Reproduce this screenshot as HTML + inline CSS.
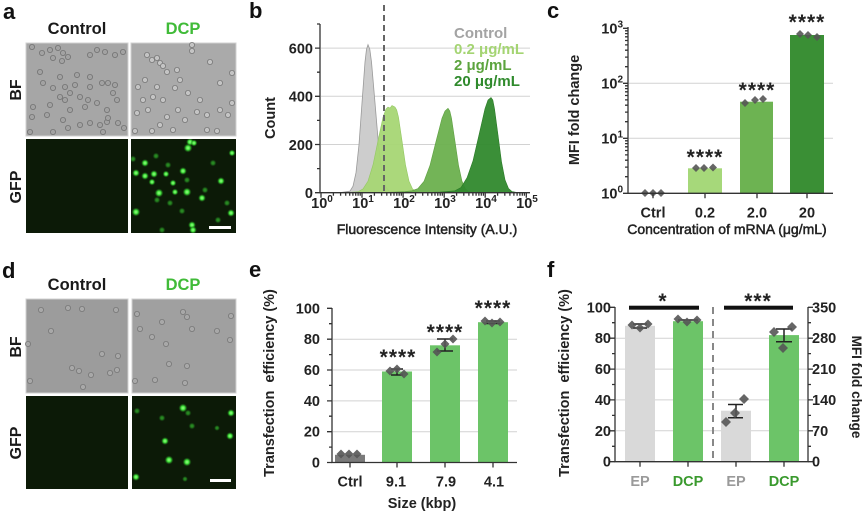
<!DOCTYPE html>
<html><head><meta charset="utf-8">
<style>
html,body{margin:0;padding:0;background:#fff;}
svg{display:block;font-family:"Liberation Sans",Arial,sans-serif;}
.pl{font-size:22px;font-weight:bold;fill:#111;}
.hd{font-size:16.5px;font-weight:bold;fill:#1a1a1a;}
.rl{font-size:16px;font-weight:bold;fill:#1a1a1a;}
.tk{font-size:14.5px;font-weight:bold;fill:#222;}
.ti{font-size:14.5px;font-weight:bold;fill:#222;}
.tr{font-size:14px;fill:#222;stroke:#222;stroke-width:0.5;}
.st{font-size:21px;font-weight:bold;fill:#222;letter-spacing:1px;}
.lg{font-size:15px;font-weight:bold;}
.ax{stroke:#333;stroke-width:1.3;fill:none;}
.gr{stroke:#d2d2d2;stroke-width:1;}
.dm{fill:#555;fill-opacity:0.9;}
.eb{stroke:#222;stroke-width:1.5;fill:none;}
</style></head><body>
<svg width="865" height="513" viewBox="0 0 865 513">
<defs>
<radialGradient id="gb"><stop offset="0" stop-color="#9dff88"/><stop offset="0.45" stop-color="#3fe03a"/><stop offset="1" stop-color="#1a6a14" stop-opacity="0"/></radialGradient>
<radialGradient id="gd"><stop offset="0" stop-color="#2f9a28"/><stop offset="0.5" stop-color="#1f6e1a"/><stop offset="1" stop-color="#134010" stop-opacity="0"/></radialGradient>
<clipPath id="c1"><rect x="131" y="139" width="105" height="94"/></clipPath>
<clipPath id="c2"><rect x="132" y="396" width="104" height="93"/></clipPath>
</defs>

<!-- ================= Panel a ================= -->
<text class="pl" x="3" y="19">a</text>
<text class="hd" x="77" y="34" text-anchor="middle">Control</text>
<text class="hd" x="183" y="34" text-anchor="middle" style="fill:#40bb38">DCP</text>
<text class="rl" transform="translate(21,90) rotate(-90)" text-anchor="middle">BF</text>
<text class="rl" transform="translate(21,187) rotate(-90)" text-anchor="middle">GFP</text>
<rect x="26" y="43" width="102" height="93" fill="#a6a6a6" stroke="#d0d0d0"/>
<rect x="131" y="43" width="105" height="93" fill="#aaaaaa" stroke="#d0d0d0"/>
<rect x="26" y="139" width="102" height="94" fill="#0c1a07"/>
<rect x="131" y="139" width="105" height="94" fill="#0c1a07"/>
<g fill="#a2a2a2" stroke="#727272" stroke-width="0.8">
<circle cx="32" cy="47" r="2.6"/><circle cx="42" cy="53" r="2.6"/><circle cx="50" cy="50" r="2.6"/><circle cx="58" cy="48" r="2.6"/><circle cx="63" cy="53" r="2.6"/><circle cx="53" cy="58" r="2.6"/><circle cx="62" cy="61" r="2.6"/><circle cx="68" cy="57" r="2.6"/><circle cx="90" cy="55" r="2.6"/><circle cx="97" cy="50" r="2.6"/><circle cx="105" cy="52" r="2.6"/><circle cx="115" cy="55" r="2.6"/><circle cx="123" cy="52" r="2.6"/><circle cx="40" cy="72" r="2.6"/><circle cx="60" cy="77" r="2.6"/><circle cx="77" cy="75" r="2.6"/><circle cx="90" cy="77" r="2.6"/><circle cx="43" cy="83" r="2.6"/><circle cx="53" cy="88" r="2.6"/><circle cx="65" cy="87" r="2.6"/><circle cx="75" cy="85" r="2.6"/><circle cx="90" cy="87" r="2.6"/><circle cx="102" cy="83" r="2.6"/><circle cx="108" cy="83" r="2.6"/><circle cx="115" cy="85" r="2.6"/><circle cx="60" cy="97" r="2.6"/><circle cx="70" cy="93" r="2.6"/><circle cx="80" cy="97" r="2.6"/><circle cx="88" cy="100" r="2.6"/><circle cx="97" cy="103" r="2.6"/><circle cx="113" cy="93" r="2.6"/><circle cx="117" cy="100" r="2.6"/><circle cx="33" cy="107" r="2.6"/><circle cx="50" cy="105" r="2.6"/><circle cx="65" cy="100" r="2.6"/><circle cx="70" cy="110" r="2.6"/><circle cx="85" cy="107" r="2.6"/><circle cx="107" cy="110" r="2.6"/><circle cx="32" cy="117" r="2.6"/><circle cx="47" cy="115" r="2.6"/><circle cx="63" cy="120" r="2.6"/><circle cx="80" cy="125" r="2.6"/><circle cx="90" cy="123" r="2.6"/><circle cx="100" cy="125" r="2.6"/><circle cx="107" cy="122" r="2.6"/><circle cx="118" cy="123" r="2.6"/><circle cx="124" cy="128" r="2.6"/><circle cx="68" cy="128" r="2.6"/><circle cx="53" cy="132" r="2.6"/><circle cx="30" cy="132" r="2.6"/><circle cx="103" cy="132" r="2.6"/><circle cx="108" cy="118" r="2.6"/>
</g>
<g fill="#c4c4c4" stroke="#777" stroke-width="0.8">
<circle cx="147" cy="55" r="2.6"/><circle cx="152" cy="60" r="2.6"/><circle cx="157" cy="58" r="2.6"/><circle cx="160" cy="63" r="2.6"/><circle cx="163" cy="66" r="2.6"/><circle cx="167" cy="72" r="2.6"/><circle cx="177" cy="70" r="2.6"/><circle cx="192" cy="45" r="2.6"/><circle cx="192" cy="51" r="2.6"/><circle cx="210" cy="62" r="2.6"/><circle cx="220" cy="83" r="2.6"/><circle cx="232" cy="73" r="2.6"/><circle cx="145" cy="80" r="2.6"/><circle cx="157" cy="87" r="2.6"/><circle cx="175" cy="88" r="2.6"/><circle cx="188" cy="93" r="2.6"/><circle cx="200" cy="100" r="2.6"/><circle cx="153" cy="97" r="2.6"/><circle cx="137" cy="113" r="2.6"/><circle cx="148" cy="110" r="2.6"/><circle cx="163" cy="100" r="2.6"/><circle cx="167" cy="117" r="2.6"/><circle cx="160" cy="125" r="2.6"/><circle cx="178" cy="110" r="2.6"/><circle cx="185" cy="120" r="2.6"/><circle cx="197" cy="112" r="2.6"/><circle cx="207" cy="115" r="2.6"/><circle cx="220" cy="110" r="2.6"/><circle cx="232" cy="103" r="2.6"/><circle cx="228" cy="115" r="2.6"/><circle cx="135" cy="131" r="2.6"/><circle cx="152" cy="131" r="2.6"/><circle cx="173" cy="130" r="2.6"/><circle cx="143" cy="100" r="2.6"/><circle cx="138" cy="87" r="2.6"/><circle cx="180" cy="80" r="2.6"/><circle cx="217" cy="131" r="2.6"/><circle cx="207" cy="130" r="2.6"/>
</g>
<g clip-path="url(#c1)">
<g fill="url(#gd)">
<circle cx="156" cy="156" r="3.5"/><circle cx="168" cy="165" r="3.5"/><circle cx="213" cy="163" r="3.5"/><circle cx="170" cy="203" r="3.5"/><circle cx="218" cy="220" r="3.5"/><circle cx="162" cy="230" r="3.5"/><circle cx="182" cy="211" r="3.5"/><circle cx="227" cy="203" r="3.5"/><circle cx="133" cy="159" r="3.5"/><circle cx="157" cy="200" r="3.5"/><circle cx="205" cy="190" r="3.5"/><circle cx="187" cy="180" r="3.5"/>
</g>
<g fill="url(#gb)">
<circle cx="190" cy="142" r="4"/><circle cx="188" cy="148" r="4.5"/><circle cx="194" cy="143" r="3.5"/><circle cx="145" cy="163" r="4"/><circle cx="136" cy="173" r="4"/><circle cx="145" cy="176" r="4"/><circle cx="154" cy="174" r="4"/><circle cx="183" cy="171" r="4"/><circle cx="166" cy="174" r="3.5"/><circle cx="159" cy="193" r="4.5"/><circle cx="187" cy="192" r="4.5"/><circle cx="202" cy="198" r="4"/><circle cx="221" cy="181" r="4"/><circle cx="232" cy="153" r="3.5"/><circle cx="136" cy="212" r="4.5"/><circle cx="192" cy="225" r="4"/><circle cx="193" cy="230" r="4"/><circle cx="231" cy="213" r="4"/><circle cx="175" cy="192" r="3.5"/><circle cx="152" cy="182" r="3.5"/><circle cx="173" cy="183" r="3.5"/>
</g>
</g>
<rect x="209" y="226" width="22" height="3" fill="#fff"/>

<!-- ================= Panel d ================= -->
<text class="pl" x="2" y="278">d</text>
<text class="hd" x="77" y="290" text-anchor="middle">Control</text>
<text class="hd" x="183" y="290" text-anchor="middle" style="fill:#40bb38">DCP</text>
<text class="rl" transform="translate(21,347) rotate(-90)" text-anchor="middle">BF</text>
<text class="rl" transform="translate(21,443) rotate(-90)" text-anchor="middle">GFP</text>
<rect x="26" y="299" width="102" height="94" fill="#9c9c9c" stroke="#d0d0d0"/>
<rect x="132" y="299" width="104" height="94" fill="#a0a0a0" stroke="#d0d0d0"/>
<rect x="26" y="396" width="102" height="93" fill="#0c1a07"/>
<rect x="132" y="396" width="104" height="93" fill="#0c1a07"/>
<g fill="#a8a8a8" stroke="#777" stroke-width="0.8">
<circle cx="41" cy="310" r="2.6"/><circle cx="68" cy="308" r="2.6"/><circle cx="82" cy="309" r="2.6"/><circle cx="116" cy="310" r="2.6"/><circle cx="51" cy="331" r="2.6"/><circle cx="28" cy="344" r="2.6"/><circle cx="102" cy="354" r="2.6"/><circle cx="118" cy="356" r="2.6"/><circle cx="72" cy="368" r="2.6"/><circle cx="79" cy="371" r="2.6"/><circle cx="91" cy="375" r="2.6"/><circle cx="110" cy="373" r="2.6"/><circle cx="117" cy="370" r="2.6"/><circle cx="30" cy="381" r="2.6"/><circle cx="83" cy="387" r="2.6"/>
<circle cx="137" cy="314" r="2.6"/><circle cx="162" cy="322" r="2.6"/><circle cx="183" cy="312" r="2.6"/><circle cx="187" cy="317" r="2.6"/><circle cx="231" cy="316" r="2.6"/><circle cx="140" cy="329" r="2.6"/><circle cx="192" cy="329" r="2.6"/><circle cx="217" cy="331" r="2.6"/><circle cx="152" cy="337" r="2.6"/><circle cx="166" cy="344" r="2.6"/><circle cx="230" cy="340" r="2.6"/><circle cx="169" cy="364" r="2.6"/><circle cx="187" cy="366" r="2.6"/><circle cx="155" cy="380" r="2.6"/><circle cx="185" cy="383" r="2.6"/><circle cx="135" cy="381" r="2.6"/>
</g>
<g clip-path="url(#c2)">
<g fill="url(#gd)">
<circle cx="137" cy="411" r="3.5"/><circle cx="162" cy="418" r="3.5"/><circle cx="188" cy="413" r="3.5"/><circle cx="192" cy="426" r="3.5"/><circle cx="217" cy="428" r="3"/><circle cx="185" cy="479" r="3"/>
</g>
<g fill="url(#gb)">
<circle cx="183" cy="408" r="4.5"/><circle cx="231" cy="413" r="4"/><circle cx="230" cy="436" r="4"/><circle cx="165" cy="441" r="4"/><circle cx="169" cy="460" r="4.5"/><circle cx="187" cy="462" r="4.5"/><circle cx="136" cy="477" r="4"/>
</g>
</g>
<rect x="210" y="479" width="21" height="3" fill="#fff"/>

<!-- ================= Panel b ================= -->
<text class="pl" x="249" y="18">b</text>
<g class="gr">
<line x1="321" y1="48.1" x2="530" y2="48.1"/><line x1="321" y1="96.3" x2="530" y2="96.3"/><line x1="321" y1="144.5" x2="530" y2="144.5"/>
</g>
<path d="M340 192.7L350 191.1L353 186.2L356 172.7L359 144.7L362 102.9L365 62.1L366.5 49.3L368 44.7L369.8 49.3L371.5 62.1L375 102.9L378.5 144.7L382 172.7L385.5 186.2L389 191.1L395 192.7Z" fill="#cdcdcd" stroke="#9a9a9a" stroke-width="0.8"/>
<path d="M345 192.7L358 191.7L363 188.9L368 181.1L373 164.9L378 140.8L383 117.2L386 109L388 107.1L390 108L392 105.5L395 107.1L396.7 110L398.5 117.2L402 140.8L405.5 164.9L409 181.1L412.5 188.9L416 191.7L421 192.7Z" fill="#a6d674" fill-opacity="0.95" stroke="#93c862" stroke-width="0.6"/>
<path d="M380 192.7L395 192.1L405 191.6L412 190.8L418 188.5L424 181.3L430 165.3L436 141.5L442 118.2L445 111L448 108.3L449.8 111L451.5 118.2L455 141.5L458.5 165.3L462 181.3L465.5 189L469 191.8L475 192.7Z" fill="#6cb04e" fill-opacity="0.95" stroke="#5e9f42" stroke-width="0.6"/>
<path d="M420 192.7L440 192.1L455 190.8L461 187.5L467 177.8L473 160.8L479 135L485 108.7L488 100L491 97.5L492.8 100L494.5 108.7L498 135L501.5 161.8L505 179.8L508.5 188.5L512 191.6L518 192.7Z" fill="#30892d" fill-opacity="0.95" stroke="#2a7a27" stroke-width="0.6"/>
<line x1="384" y1="5" x2="384" y2="193" stroke="#666" stroke-width="2" stroke-dasharray="6 4"/>
<path class="ax" d="M320 24V192.7H530"/>
<path class="ax" d="M315 192.7h5M315 144.5h5M315 96.3h5M315 48.1h5M317 168.6h3M317 120.4h3M317 72.2h3M317 24h3"/>
<path class="ax" d="M321 192.7v5M362 192.7v5M403.1 192.7v5M444.2 192.7v5M485.2 192.7v5M526.3 192.7v5"/>
<path class="ax" stroke-width="1" d="M333.4 192.7v3M340.6 192.7v3M345.7 192.7v3M349.7 192.7v3M352.9 192.7v3M355.7 192.7v3M358.1 192.7v3M360.2 192.7v3M374.4 192.7v3M381.6 192.7v3M386.8 192.7v3M390.8 192.7v3M394 192.7v3M396.8 192.7v3M399.2 192.7v3M401.3 192.7v3M415.5 192.7v3M422.7 192.7v3M427.8 192.7v3M431.8 192.7v3M435 192.7v3M437.8 192.7v3M440.2 192.7v3M442.3 192.7v3M456.6 192.7v3M463.8 192.7v3M468.9 192.7v3M472.9 192.7v3M476.1 192.7v3M478.9 192.7v3M481.3 192.7v3M483.4 192.7v3M497.6 192.7v3M504.8 192.7v3M509.9 192.7v3M513.9 192.7v3M517.1 192.7v3M519.9 192.7v3M522.3 192.7v3M524.4 192.7v3"/>
<g class="tk" text-anchor="end">
<text x="313" y="198">0</text><text x="313" y="150">200</text><text x="313" y="101.5">400</text><text x="313" y="53.5">600</text>
</g>
<g class="tk" text-anchor="middle">
<text x="322" y="208">10<tspan font-size="10" dy="-6">0</tspan></text>
<text x="363" y="208">10<tspan font-size="10" dy="-6">1</tspan></text>
<text x="404" y="208">10<tspan font-size="10" dy="-6">2</tspan></text>
<text x="445" y="208">10<tspan font-size="10" dy="-6">3</tspan></text>
<text x="486" y="208">10<tspan font-size="10" dy="-6">4</tspan></text>
<text x="527" y="208">10<tspan font-size="10" dy="-6">5</tspan></text>
</g>
<text class="ti" transform="translate(275,118) rotate(-90)" text-anchor="middle">Count</text>
<text class="tr" x="427" y="234" text-anchor="middle">Fluorescence Intensity (A.U.)</text>
<text class="lg" x="454" y="38" fill="#a3a3a3">Control</text>
<text class="lg" x="454" y="54" fill="#a4d472">0.2 μg/mL</text>
<text class="lg" x="454" y="70" fill="#5ca43e">2 μg/mL</text>
<text class="lg" x="454" y="86" fill="#2f8a2c">20 μg/mL</text>

<!-- ================= Panel c ================= -->
<text class="pl" x="547" y="18">c</text>
<g class="gr">
<line x1="629" y1="138.3" x2="833" y2="138.3"/><line x1="629" y1="83.3" x2="833" y2="83.3"/>
</g>
<rect x="688" y="168.3" width="34" height="25" fill="#a6d87a"/>
<rect x="740" y="101.7" width="33" height="91.6" fill="#6db352"/>
<rect x="790" y="35" width="34" height="158.3" fill="#3a8f35"/>
<g class="dm">
<path d="M645 189l4 4-4 4-4-4z"/><path d="M653 189l4 4-4 4-4-4z"/><path d="M661 189l4 4-4 4-4-4z"/>
<path d="M696 164l4 4-4 4-4-4z"/><path d="M704 164l4 4-4 4-4-4z"/><path d="M713 163.5l4 4-4 4-4-4z"/>
<path d="M745 99l4 4-4 4-4-4z"/><path d="M755 96l4 4-4 4-4-4z"/><path d="M763 95l4 4-4 4-4-4z"/>
<path d="M800 30l4 4-4 4-4-4z"/><path d="M808 31l4 4-4 4-4-4z"/><path d="M817 33l4 4-4 4-4-4z"/>
</g>
<path class="ax" d="M628 27V193.3H833"/>
<path class="ax" d="M623 193.3h5M623 138.3h5M623 83.3h5M623 28.3h5M653 193.3v5M705 193.3v5M757 193.3v5M807 193.3v5"/>
<path class="ax" stroke-width="1" d="M625 176.7h3M625 167.1h3M625 160.2h3M625 154.9h3M625 150.5h3M625 146.8h3M625 143.6h3M625 140.8h3M625 121.7h3M625 112.1h3M625 105.2h3M625 99.9h3M625 95.5h3M625 91.8h3M625 88.6h3M625 85.8h3M625 66.7h3M625 57.1h3M625 50.2h3M625 44.9h3M625 40.5h3M625 36.8h3M625 33.6h3M625 30.8h3"/>
<g class="tk" text-anchor="end">
<text x="623" y="198.5">10<tspan font-size="10" dy="-6">0</tspan></text>
<text x="623" y="143.5">10<tspan font-size="10" dy="-6">1</tspan></text>
<text x="623" y="88.5">10<tspan font-size="10" dy="-6">2</tspan></text>
<text x="623" y="33.5">10<tspan font-size="10" dy="-6">3</tspan></text>
</g>
<g class="tk" text-anchor="middle">
<text x="653" y="217.5">Ctrl</text><text x="705" y="217.5">0.2</text><text x="757" y="217.5">2.0</text><text x="807" y="217.5">20</text>
</g>
<g class="st" text-anchor="middle">
<text x="705" y="164">****</text><text x="757" y="97">****</text><text x="807" y="29">****</text>
</g>
<text class="ti" transform="translate(579,110) rotate(-90)" text-anchor="middle">MFI fold change</text>
<text class="tr" x="727" y="234" text-anchor="middle">Concentration of mRNA (μg/mL)</text>

<!-- ================= Panel e ================= -->
<text class="pl" x="249" y="277">e</text>
<g class="gr">
<line x1="333" y1="431.7" x2="517" y2="431.7"/><line x1="333" y1="400.9" x2="517" y2="400.9"/><line x1="333" y1="370" x2="517" y2="370"/><line x1="333" y1="339.2" x2="517" y2="339.2"/>
</g>
<rect x="335" y="454.8" width="30" height="7.7" fill="#7a7a7a"/>
<rect x="382" y="371.5" width="30" height="91" fill="#6cc468"/>
<rect x="430" y="345.3" width="30" height="117.2" fill="#6cc468"/>
<rect x="478" y="322.2" width="30" height="140.3" fill="#6cc468"/>
<path class="eb" d="M391 369h12M397 369v6M391 375h12M437 339h16M445 339v12M437 351h16M486 321h14M486 323.5h14"/>
<g class="dm">
<path d="M341 449.5l4.5 4.5-4.5 4.5-4.5-4.5z"/><path d="M349 449.5l4.5 4.5-4.5 4.5-4.5-4.5z"/><path d="M357 449.5l4.5 4.5-4.5 4.5-4.5-4.5z"/>
<path d="M390 366.5l4.5 4.5-4.5 4.5-4.5-4.5z"/><path d="M397 364.5l4.5 4.5-4.5 4.5-4.5-4.5z"/><path d="M404 369.5l4.5 4.5-4.5 4.5-4.5-4.5z"/>
<path d="M437 347.5l4.5 4.5-4.5 4.5-4.5-4.5z"/><path d="M445 339.5l4.5 4.5-4.5 4.5-4.5-4.5z"/><path d="M453 334.5l4.5 4.5-4.5 4.5-4.5-4.5z"/>
<path d="M485 316.5l4.5 4.5-4.5 4.5-4.5-4.5z"/><path d="M492 318.5l4.5 4.5-4.5 4.5-4.5-4.5z"/><path d="M500 317.5l4.5 4.5-4.5 4.5-4.5-4.5z"/>
</g>
<path class="ax" d="M332 308V462.5H517"/>
<path class="ax" d="M327 462.5h5M327 431.7h5M327 400.9h5M327 370h5M327 339.2h5M327 308.3h5M350 462.5v5M397 462.5v5M445 462.5v5M493 462.5v5"/>
<path class="ax" stroke-width="1" d="M329 447.1h3M329 416.2h3M329 385.4h3M329 354.6h3M329 323.7h3"/>
<g class="tk" text-anchor="end">
<text x="320" y="467.5">0</text><text x="320" y="436.7">20</text><text x="320" y="405.9">40</text><text x="320" y="375">60</text><text x="320" y="344.2">80</text><text x="320" y="313.3">100</text>
</g>
<g class="tk" text-anchor="middle">
<text x="350" y="486.7">Ctrl</text><text x="396" y="486.7">9.1</text><text x="446" y="486.7">7.9</text><text x="494" y="486.7">4.1</text>
</g>
<g class="st" text-anchor="middle">
<text x="398" y="364">****</text><text x="445" y="339">****</text><text x="493" y="315">****</text>
</g>
<text class="ti" transform="translate(274,383) rotate(-90)" text-anchor="middle">Transfection&#160; efficiency (%)</text>
<text class="ti" x="422" y="508" text-anchor="middle">Size (kbp)</text>

<!-- ================= Panel f ================= -->
<text class="pl" x="547" y="277">f</text>
<g class="gr">
<line x1="616" y1="430.8" x2="807" y2="430.8"/><line x1="616" y1="399.9" x2="807" y2="399.9"/><line x1="616" y1="369.1" x2="807" y2="369.1"/><line x1="616" y1="338.2" x2="807" y2="338.2"/>
</g>
<rect x="625" y="325.8" width="30" height="135.9" fill="#d9d9d9"/>
<rect x="673" y="321.2" width="30" height="140.5" fill="#6cc468"/>
<rect x="721" y="410.7" width="30" height="51" fill="#d9d9d9"/>
<rect x="769" y="335.1" width="30" height="126.6" fill="#6cc468"/>
<line x1="713" y1="307" x2="713" y2="462" stroke="#888" stroke-width="2" stroke-dasharray="7 5"/>
<rect x="629" y="305.7" width="70" height="4" fill="#111"/>
<rect x="724" y="305.7" width="69" height="4" fill="#111"/>
<path class="eb" d="M633 324h14M633 328h14M678 320h20M728 404.5h15M736 404.5v13.2M728 417.7h15M776 329h16M784 329v12.7M776 341.7h16"/>
<g class="dm">
<path d="M632 320.5l4.5 4.5-4.5 4.5-4.5-4.5z"/><path d="M640 323.5l4.5 4.5-4.5 4.5-4.5-4.5z"/><path d="M648 319.5l4.5 4.5-4.5 4.5-4.5-4.5z"/>
<path d="M678 314.5l4.5 4.5-4.5 4.5-4.5-4.5z"/><path d="M687 317.5l4.5 4.5-4.5 4.5-4.5-4.5z"/><path d="M697 315.5l4.5 4.5-4.5 4.5-4.5-4.5z"/>
<path d="M726 417l5 5-5 5-5-5z"/><path d="M735 408l5 5-5 5-5-5z"/><path d="M744 394l5 5-5 5-5-5z"/>
<path d="M774 327l5 5-5 5-5-5z"/><path d="M783 343l5 5-5 5-5-5z"/><path d="M792 322l5 5-5 5-5-5z"/>
</g>
<path class="ax" d="M615 307V461.7H808V307"/>
<path class="ax" d="M610 461.7h5M610 430.8h5M610 399.9h5M610 369.1h5M610 338.2h5M610 307.3h5M808 461.7h5M808 430.8h5M808 399.9h5M808 369.1h5M808 338.2h5M808 307.3h5M640 461.7v5M688 461.7v5M736 461.7v5M784 461.7v5"/>
<path class="ax" stroke-width="1" d="M612 446.3h3M612 415.4h3M612 384.5h3M612 353.6h3M612 322.7h3M808 446.3h3M808 415.4h3M808 384.5h3M808 353.6h3M808 322.7h3"/>
<g class="tk" text-anchor="end">
<text x="611" y="466.7">0</text><text x="611" y="435.8">20</text><text x="611" y="404.9">40</text><text x="611" y="374.1">60</text><text x="611" y="343.2">80</text><text x="611" y="312.3">100</text>
</g>
<g class="tk" text-anchor="start">
<text x="812" y="466.7">0</text><text x="812" y="435.8">70</text><text x="812" y="404.9">140</text><text x="812" y="374.1">210</text><text x="812" y="343.2">280</text><text x="812" y="312.3">350</text>
</g>
<g class="tk" text-anchor="middle">
<text x="640" y="486" style="fill:#9a9a9a">EP</text><text x="688" y="486" style="fill:#3a9a2e">DCP</text><text x="736" y="486" style="fill:#9a9a9a">EP</text><text x="784" y="486" style="fill:#3a9a2e">DCP</text>
</g>
<g class="st" text-anchor="middle">
<text x="663" y="308">*</text><text x="758" y="308">***</text>
</g>
<text class="ti" transform="translate(569,383) rotate(-90)" text-anchor="middle">Transfection&#160; efficiency (%)</text>
<text class="ti" style="font-size:13.5px" transform="translate(852,387) rotate(90)" text-anchor="middle">MFI fold change</text>
</svg>
</body></html>
